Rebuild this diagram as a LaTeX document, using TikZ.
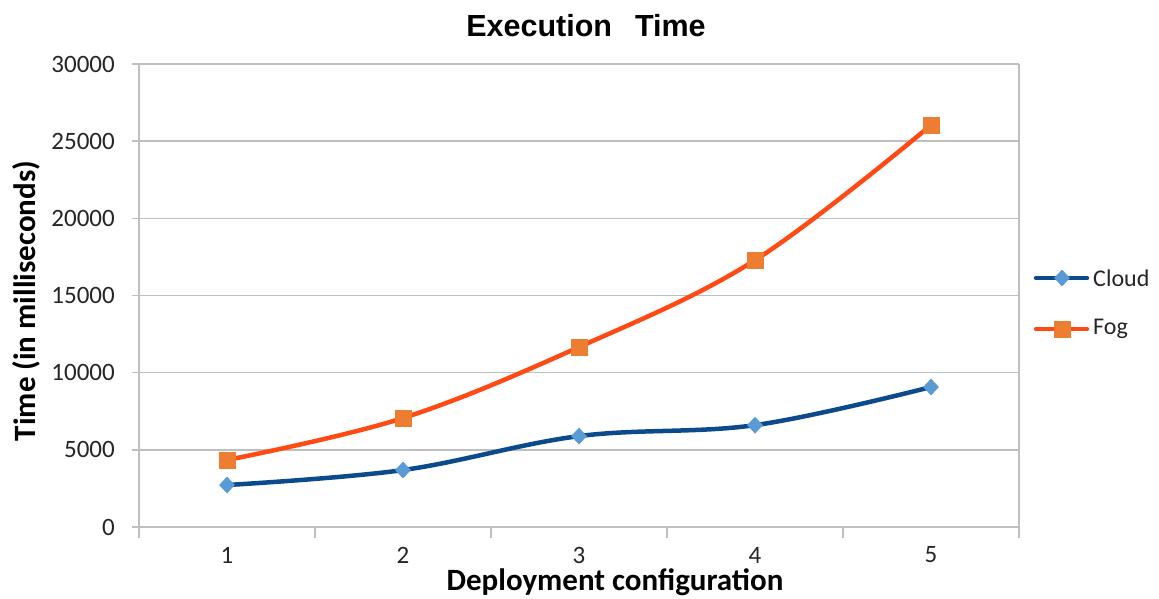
\documentclass[tikz,border=0pt]{standalone}
\usepackage{fontspec}
\setmainfont{Carlito}
\newfontfamily\titlefont{Liberation Sans}
\usetikzlibrary{shapes.geometric}
\definecolor{gridgray}{HTML}{BFBFBF}
\definecolor{cloudline}{HTML}{0B4A8B}
\definecolor{cloudfill}{HTML}{5B9BD5}
\definecolor{fogline}{HTML}{FF4A14}
\definecolor{fogfill}{HTML}{ED7D31}
\definecolor{labelgray}{HTML}{262626}
\tikzset{
  grid/.style={draw=gridgray, line width=1.5pt},
  ticklabel/.style={font=\fontsize{25}{27}\selectfont, text=labelgray, inner sep=0pt},
  axistitle/.style={font=\fontsize{31}{33}\selectfont\bfseries, inner sep=0pt},
  cloudcurve/.style={draw=cloudline, line width=4.5pt, line cap=round, line join=round},
  fogcurve/.style={draw=fogline, line width=4.5pt, line cap=round, line join=round},
  cloudmarker/.style={diamond, fill=cloudfill, inner sep=0pt, minimum width=16pt, minimum height=17pt},
  fogmarker/.style={rectangle, fill=fogfill, inner sep=0pt, minimum size=17pt},
  legendtext/.style={font=\fontsize{24}{26}\selectfont, text=labelgray, anchor=west, inner sep=0pt},
}
\begin{document}
\begin{tikzpicture}[x=1pt, y=-1pt]
\useasboundingbox (0,0) rectangle (1159,598);
\fill[white] (0,0) rectangle (1159,598);

% horizontal gridlines and y ticks
\foreach \v/\lab [count=\k from 0] in {0/0,5/5000,10/10000,15/15000,20/20000,25/25000,30/30000} {
  \pgfmathsetmacro{\yy}{527-\v*463/30}
  \draw[grid] (132,\yy) -- (1019,\yy);
  \node[ticklabel, anchor=east] (ylab\k) at (115,\yy) {\lab};
}
% vertical axis, right border and category ticks
\draw[grid] (139,64) -- (139,538);
\draw[grid] (1019,64) -- (1019,538);
\foreach \i in {1,2,3,4} {
  \draw[grid] (139+176*\i,527) -- (139+176*\i,538);
}
% category labels
\foreach \i in {1,...,5} {
  \node[ticklabel] (xlab\i) at (51+176*\i,555) {\i};
}

% titles
\node[font=\titlefont\fontsize{30.5}{32}\selectfont\bfseries, inner sep=0pt, anchor=base] (title) at (586,36) {Execution\hspace{0.75em}Time};
\node[axistitle, rotate=90] (ytitle) at (26,301) {Time (in milliseconds)};
\node[axistitle, anchor=base] (xtitle) at (615,590) {Deployment configuration};

% data points
\begin{scope}[x=176pt, y=15.4333pt, xshift=51pt, yshift=-527pt]
  \coordinate (c1) at (1,2.72);
  \coordinate (c2) at (2,3.69);
  \coordinate (c3) at (3,5.89);
  \coordinate (c4) at (4,6.60);
  \coordinate (c5) at (5,9.07);
  \coordinate (f1) at (1,4.34);
  \coordinate (f2) at (2,7.06);
  \coordinate (f3) at (3,11.66);
  \coordinate (f4) at (4,17.29);
  \coordinate (f5) at (5,26.04);
\end{scope}

% series curves
\draw[cloudcurve] plot[smooth, tension=0.6] coordinates {(c1) (c2) (c3) (c4) (c5)};
\draw[fogcurve] plot[smooth, tension=0.6] coordinates {(f1) (f2) (f3) (f4) (f5)};

% markers
\foreach \i in {1,...,5} {
  \node[cloudmarker] (cm\i) at (c\i) {};
  \node[fogmarker] (fm\i) at (f\i) {};
}

% legend
\coordinate (lc1) at (1036,278);
\coordinate (lc2) at (1087,278);
\draw[cloudcurve] (lc1) -- (lc2);
\node[cloudmarker] (lcm) at (1062,278) {};
\node[legendtext] (lcloud) at (1093,278) {Cloud};
\coordinate (lf1) at (1036,329);
\coordinate (lf2) at (1087,329);
\draw[fogcurve] (lf1) -- (lf2);
\node[fogmarker] (lfm) at (1062,329) {};
\node[legendtext] (lfog) at (1093,329) {Fog};
\end{tikzpicture}
\end{document}
